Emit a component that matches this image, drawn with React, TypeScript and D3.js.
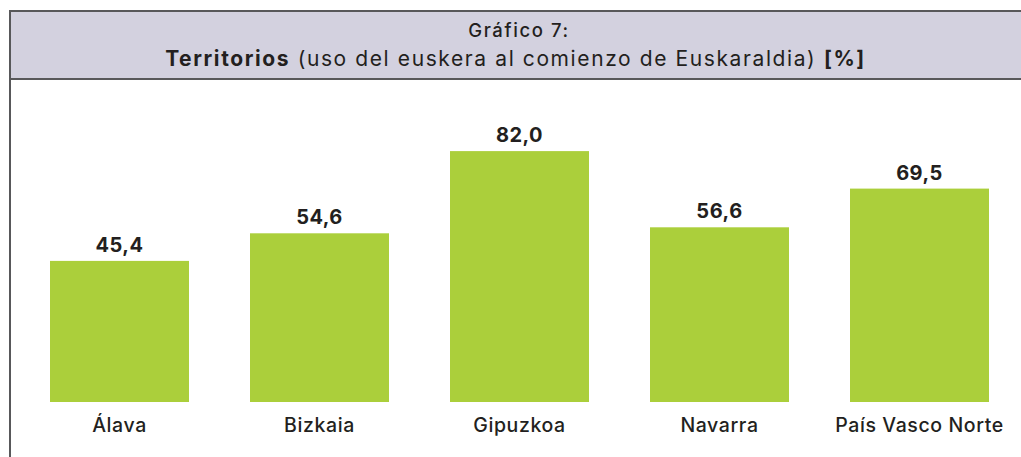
import React from "react";
import * as d3 from "d3";

const categories: string[] = ["Álava", "Bizkaia", "Gipuzkoa", "Navarra", "País Vasco Norte"];
const values: number[] = [45.4, 54.6, 82.0, 56.6, 69.5];
const titleLine1 = "Gráfico 7:";
const titleBold = "Territorios";
const titleRegular = " (uso del euskera al comienzo de Euskaraldia) ";
const titleUnit = "[%]";

const W = 1021;
const H = 457;
const FONT = "Inter, 'Open Sans', 'DejaVu Sans', sans-serif";
const TEXT = "#231f20";
const BAR = "#abcf3b";

export default function App() {
  const x = d3
    .scaleBand<string>()
    .domain(categories)
    .range([19.5, 1019.5])
    .paddingInner(0.305)
    .paddingOuter(0.1525);
  const y = d3.scaleLinear().domain([0, 100]).range([397.1, 97.1]);
  const plotBottom = 402;
  const fmt = (v: number) => d3.format(".1f")(v).replace(".", ",");

  return (
    <svg
      width={W}
      height={H}
      style={{ position: "absolute", left: 0, top: 0, background: "#fff" }}
      fontFamily={FONT}
    >
      <rect x={10} y={11} width={W - 10} height={68} fill="#d3d1df" />
      <line x1={9} x2={W} y1={11} y2={11} stroke="#58585a" strokeWidth={2} />
      <line x1={9} x2={W} y1={79} y2={79} stroke="#58585a" strokeWidth={2} />
      <line x1={10} x2={10} y1={10} y2={H} stroke="#58585a" strokeWidth={2} />
      <text x={519} y={37} textAnchor="middle" fontSize={18.5} fontWeight={500} letterSpacing={1.6} fill={TEXT}>
        {titleLine1}
      </text>
      <text
        x={515.5}
        y={66}
        textAnchor="middle"
        fontSize={21}
        fontWeight={400}
        letterSpacing={1.6}
        fill={TEXT}
      >
        <tspan fontWeight={700}>{titleBold}</tspan>
        <tspan>{titleRegular}</tspan>
        <tspan fontWeight={700}>{titleUnit}</tspan>
      </text>
      {categories.map((c, i) => (
        <g key={c}>
          <rect
            x={x(c)}
            y={y(values[i])}
            width={x.bandwidth()}
            height={plotBottom - y(values[i])}
            fill={BAR}
          />
          <text
            x={(x(c) as number) + x.bandwidth() / 2}
            y={y(values[i]) - 9}
            textAnchor="middle"
            fontSize={20}
            fontWeight={700}
            letterSpacing={0.5}
            fill={TEXT}
          >
            {fmt(values[i])}
          </text>
          <text
            x={(x(c) as number) + x.bandwidth() / 2}
            y={432}
            textAnchor="middle"
            fontSize={19.5}
            fontWeight={500}
            letterSpacing={0.6}
            fill={TEXT}
          >
            {c}
          </text>
        </g>
      ))}
    </svg>
  );
}
